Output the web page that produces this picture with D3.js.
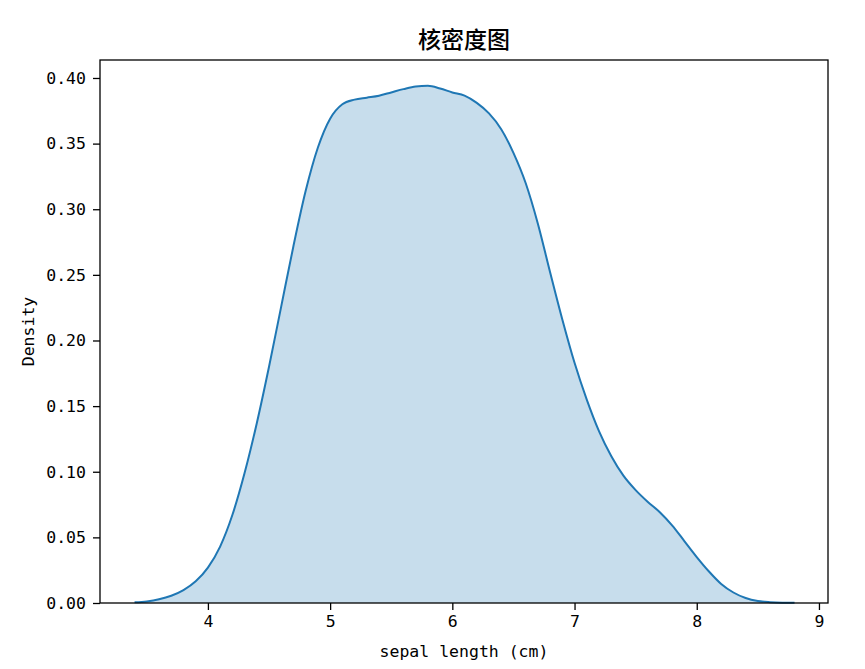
<!DOCTYPE html>
<html><head><meta charset="utf-8">
<script src="https://cdn.jsdelivr.net/npm/d3@7"></script>
<style>
html,body{margin:0;padding:0;background:#fff;}
svg text{fill:#000;}
</style>
</head><body>
<script>
// sepal length grid (cm) and estimated kernel density
const xs = [3.4,3.5,3.6,3.7,3.8,3.9,4.0,4.1,4.2,4.3,4.4,4.5,4.6,4.7,4.8,4.9,5.0,5.1,5.2,5.3,5.4,5.5,5.6,5.7,5.8,5.9,6.0,6.1,6.2,6.3,6.4,6.5,6.6,6.7,6.8,6.9,7.0,7.1,7.2,7.3,7.4,7.5,7.6,7.7,7.8,7.9,8.0,8.1,8.2,8.3,8.4,8.5,8.6,8.7,8.8];
const density = [0.0005,0.0012,0.0028,0.0055,0.0098,0.0165,0.027,0.043,0.067,0.099,0.137,0.180,0.226,0.272,0.314,0.347,0.369,0.380,0.3835,0.385,0.3865,0.389,0.3915,0.3935,0.394,0.392,0.389,0.3865,0.381,0.373,0.361,0.343,0.320,0.289,0.252,0.216,0.183,0.155,0.131,0.112,0.097,0.086,0.077,0.069,0.059,0.047,0.035,0.024,0.0145,0.008,0.0038,0.0015,0.0006,0.0002,0.0001];
const xTicks = [4,5,6,7,8,9];
const yTicks = [0,0.05,0.10,0.15,0.20,0.25,0.30,0.35,0.40];
const title = "核密度图";
const xLabel = "sepal length (cm)";
const yLabel = "Density";

const W = 865, H = 669;
const L = 100, R = 828, T = 60, B = 603;
const mono = "'DejaVu Sans Mono','Liberation Mono',monospace";

const svg = d3.select("body").append("svg").attr("width", W).attr("height", H);

const x = d3.scaleLinear().domain([3.117, 9.074]).range([L, R]);
const y = d3.scaleLinear().domain([0, 0.4137]).range([B, T]);

const data = xs.map((v, i) => ({x: v, y: density[i]}));

svg.append("path").datum(data)
  .attr("d", d3.area().x(d => x(d.x)).y0(y(0)).y1(d => y(d.y)).curve(d3.curveMonotoneX))
  .attr("fill", "#1f77b4").attr("fill-opacity", 0.25).attr("stroke", "none");

svg.append("path").datum(data)
  .attr("d", d3.line().x(d => x(d.x)).y(d => y(d.y)).curve(d3.curveMonotoneX))
  .attr("fill", "none").attr("stroke", "#1f77b4").attr("stroke-width", 2);

// frame
svg.append("rect").attr("x", L).attr("y", T).attr("width", R - L).attr("height", B - T)
  .attr("fill", "none").attr("stroke", "#000").attr("stroke-width", 1.3);

const xAxis = svg.append("g").attr("transform", `translate(0,${B})`)
  .call(d3.axisBottom(x).tickValues(xTicks).tickFormat(d3.format("d")).tickSize(7).tickPadding(5));
const yAxis = svg.append("g").attr("transform", `translate(${L},0)`)
  .call(d3.axisLeft(y).tickValues(yTicks).tickFormat(d3.format(".2f")).tickSize(7).tickPadding(7));
[xAxis, yAxis].forEach(g => {
  g.select(".domain").remove();
  g.selectAll("line").attr("stroke", "#000").attr("stroke-width", 1.3);
  g.selectAll("text").attr("font-family", mono).attr("font-size", 16.5).attr("fill", "#000");
});

svg.append("text").attr("x", (L + R) / 2).attr("y", 48).attr("text-anchor", "middle")
  .attr("font-family", "'Noto Sans CJK SC',sans-serif").attr("font-size", 23).attr("font-weight", 500).text(title);

svg.append("text").attr("x", (L + R) / 2).attr("y", 657).attr("text-anchor", "middle")
  .attr("font-family", mono).attr("font-size", 16.5).text(xLabel);

svg.append("text").attr("transform", `translate(34,${(T + B) / 2}) rotate(-90)`).attr("text-anchor", "middle")
  .attr("font-family", mono).attr("font-size", 16.5).text(yLabel);
</script>
</body></html>
